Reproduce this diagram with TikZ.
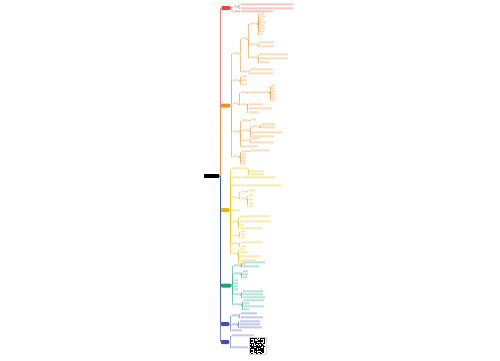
\documentclass[tikz,border=0pt]{standalone}
\usetikzlibrary{calc}
\definecolor{mred}{HTML}{E5483F}
\definecolor{morange}{HTML}{F0902A}
\definecolor{myellow}{HTML}{E2BE00}
\definecolor{mgreen}{HTML}{1AA37A}
\definecolor{mblue}{HTML}{3F4FB0}
% one child of a map node: parent anchor, name, y, length, colour
\newcommand\kid[5]{%
  \path (#1) ++(2.6,0) coordinate (kx);
  \node[leaf, fill=#5!22, minimum width=#4pt] (#2) at (kx |- 0,#3) {};
  \draw[con, draw=#5!85] (#1) -- ++(1.2,0) |- (#2.south west) -- (#2.south east);
}
\begin{document}
\begin{tikzpicture}[x=1pt, y=-1pt,
  rootbox/.style={fill=black, minimum width=15pt, minimum height=4pt, inner sep=0},
  br/.style={rounded corners=0.8pt, minimum height=4pt, inner sep=0},
  leaf/.style={anchor=south west, inner sep=0, minimum height=1.5pt},
  con/.style={line width=0.35pt, rounded corners=0.8pt},
  spine/.style={line width=0.55pt, rounded corners=1pt}]
\fill[white] (0,0) rectangle (500,360);
\useasboundingbox (0,0) rectangle (500,360);
\node[rootbox] (root) at (211.5,176) {};
\node[br, fill=mred, minimum width=9pt] (r) at (226,8) {};
\node[br, fill=morange, minimum width=9pt] (o) at (225.5,105.5) {};
\node[br, fill=myellow, minimum width=8pt] (y) at (225,210) {};
\node[br, fill=mgreen, minimum width=10pt] (g) at (226,285.5) {};
\node[br, fill=mblue, minimum width=8pt] (b1) at (225,324) {};
\node[br, fill=mblue, minimum width=8pt] (b2) at (225,342) {};
\foreach \bx/\bc in {r/mred, o/morange, y/myellow, g/mgreen, b1/mblue, b2/mblue}
  \draw[spine, draw=\bc] (root.east) -- ++(1.2,0) |- (\bx.west);
% red branch
\kid{r.east}{r1}{7}{4}{mred}
\kid{r1.south east}{r1a}{5}{52}{mred}
\kid{r1.south east}{r1b}{9}{52}{mred}
\kid{r.east}{r2}{12}{4}{mred}
\kid{r2.south east}{r2a}{12}{32}{mred}
% orange branch
\kid{o.east}{oA}{54}{6}{morange}
\kid{oA.south east}{oA1}{39}{5}{morange}
\kid{oA1.south east}{oA1a}{24}{7}{morange}
\foreach \yy/\ll [count=\i] in {14/4,17/5,20/3,23/6,26/4,29/5,32/4,35/3}
  {\kid{oA1a.south east}{oA1a-\i}{\yy}{\ll}{morange}}
\kid{oA1.south east}{oA1b}{45}{7}{morange}
\foreach \yy/\ll [count=\i] in {43/14,47/14}
  {\kid{oA1b.south east}{oA1b-\i}{\yy}{\ll}{morange}}
\kid{oA1.south east}{oA1c}{58}{7}{morange}
\foreach \yy/\ll [count=\i] in {55/28,59/28,63/10}
  {\kid{oA1c.south east}{oA1c-\i}{\yy}{\ll}{morange}}
\kid{oA.south east}{oA2}{72}{6}{morange}
\foreach \yy/\ll [count=\i] in {70/22,74/22}
  {\kid{oA2.south east}{oA2-\i}{\yy}{\ll}{morange}}
\kid{o.east}{oB}{81}{6}{morange}
\foreach \yy/\ll [count=\i] in {77/5,81/5,85/5}
  {\kid{oB.south east}{oB-\i}{\yy}{\ll}{morange}}
\kid{o.east}{oC}{104}{5}{morange}
\kid{oC.south east}{oC1}{93}{5}{morange}
\kid{oC1.south east}{oC1a}{93}{20}{morange}
\foreach \yy [count=\i] in {86,89,92,95,98,101}
  {\kid{oC1a.south east}{oC1a-\i}{\yy}{3}{morange}}
\kid{oC.south east}{oC2}{105}{5}{morange}
\foreach \yy/\ll [count=\i] in {105/14,109/23,113/10}
  {\kid{oC2.south east}{oC2-\i}{\yy}{\ll}{morange}}
\kid{o.east}{oD}{132}{6}{morange}
\kid{oD.south east}{oD1}{121}{6}{morange}
\kid{oD1.south east}{oD1a}{120}{5}{morange}
\kid{oD.south east}{oD2}{131}{7}{morange}
\kid{oD2.south east}{oD2a}{127}{7}{morange}
\kid{oD2a.south east}{oD2a-1}{125}{13}{morange}
\kid{oD2a.south east}{oD2a-2}{128}{13}{morange}
\kid{oD2.south east}{oD2b}{133}{7}{morange}
\kid{oD2b.south east}{oD2b-1}{133}{20}{morange}
\kid{oD2.south east}{oD2c}{137}{22}{morange}
\kid{oD.south east}{oD3}{141}{7}{morange}
\kid{oD3.south east}{oD3a}{139}{8}{morange}
\kid{oD3.south east}{oD3b}{143}{22}{morange}
\kid{oD.south east}{oD4}{147}{16}{morange}
\kid{o.east}{oE}{157}{6}{morange}
\kid{oE.south east}{oE1}{152}{6}{morange}
\kid{oE1.south east}{oE1a}{151}{18}{morange}
\foreach \yy [count=\i] in {155,158,161,164}
  {\kid{oE.south east}{oE-\i}{\yy}{4}{morange}}
% yellow branch
\kid{y.east}{yA}{169}{15}{myellow}
\kid{yA.south east}{yA1}{172}{14}{myellow}
\kid{yA.south east}{yA2}{175}{14}{myellow}
\kid{y.east}{yB}{178}{6}{myellow}
\kid{yB.south east}{yB1}{178}{34}{myellow}
\kid{y.east}{yC}{186}{10}{myellow}
\kid{yC.south east}{yC1}{186}{36}{myellow}
\kid{y.east}{yD}{198}{6}{myellow}
\kid{yD.south east}{yD1}{192}{5}{myellow}
\kid{yD1.south east}{yD1a}{191}{6}{myellow}
\kid{yD.south east}{yD2}{199}{5}{myellow}
\foreach \yy [count=\i] in {196,200,204,207}
  {\kid{yD2.south east}{yD2-\i}{\yy}{4}{myellow}}
\kid{y.east}{yE}{211}{8}{myellow}
\kid{y.east}{yF}{222}{5}{myellow}
\kid{yF.south east}{yF1}{217}{5}{myellow}
\kid{yF1.south east}{yF1a}{217}{22}{myellow}
\kid{yF.south east}{yF2}{222}{6}{myellow}
\kid{yF2.south east}{yF2a}{222}{22}{myellow}
\kid{yF.south east}{yF3}{226}{4}{myellow}
\kid{yF.south east}{yF4}{229}{22}{myellow}
\kid{y.east}{yG}{236}{6}{myellow}
\foreach \yy [count=\i] in {232,235,238}
  {\kid{yG.south east}{yG-\i}{\yy}{4}{myellow}}
\kid{y.east}{yH}{244}{6}{myellow}
\kid{yH.south east}{yH1}{243}{22}{myellow}
\kid{yH.south east}{yH2}{247}{5}{myellow}
\kid{y.east}{yI}{254}{5}{myellow}
\foreach \yy/\ll [count=\i] in {250/5,253/8,257/20}
  {\kid{yI.south east}{yI-\i}{\yy}{\ll}{myellow}}
\kid{yI.south east}{yI4}{261}{8}{myellow}
\kid{yI4.south east}{yI4a}{261}{5}{myellow}
\kid{yI.south east}{yI5}{265}{5}{myellow}
% green branch
\kid{g.east}{gA}{266}{6}{mgreen}
\kid{gA.south east}{gA1}{263}{22}{mgreen}
\kid{gA.south east}{gA2}{267}{16}{mgreen}
\kid{g.east}{gB}{274}{6}{mgreen}
\foreach \yy/\ll [count=\i] in {272/5,275/5,278/4}
  {\kid{gB.south east}{gB-\i}{\yy}{\ll}{mgreen}}
\foreach \yy [count=\i] in {281,284,287,290}
  {\kid{g.east}{gC-\i}{\yy}{4}{mgreen}}
\kid{g.east}{gD}{295}{6}{mgreen}
\foreach \yy/\ll [count=\i] in {292/20,295/20,298/22}
  {\kid{gD.south east}{gD-\i}{\yy}{\ll}{mgreen}}
\kid{g.east}{gE}{305}{7}{mgreen}
\foreach \yy/\ll [count=\i] in {301/20,304/5,307/20,310/5}
  {\kid{gE.south east}{gE-\i}{\yy}{\ll}{mgreen}}
% blue branches
\kid{b1.east}{bA}{316}{6}{mblue}
\kid{bA.south east}{bA1}{314}{16}{mblue}
\kid{bA.south east}{bA2}{318}{22}{mblue}
\kid{b1.east}{bB}{325}{5}{mblue}
\foreach \yy/\ll [count=\i] in {322/20,325/20,328/22}
  {\kid{bB.south east}{bB-\i}{\yy}{\ll}{mblue}}
\kid{b1.east}{bC}{331}{10}{mblue}
\kid{b2.east}{bD}{336}{22}{mblue}
\kid{b2.east}{bE}{348}{16}{mblue}
% code picture
\node[draw=gray!35, fill=white, minimum size=17pt, inner sep=0, line width=0.3pt] (qr) at (257.5,346) {};
\pgfmathsetseed{11}
\foreach \i in {0,...,20}{
  \foreach \j in {0,...,20}{
    \pgfmathrandominteger{\q}{0}{1}
    \ifnum\q=1 \fill (qr.north west) ++(1+\i*0.714,1+\j*0.714) rectangle ++(0.714,0.714);\fi
  }}
\foreach \fx/\fy in {0/0,14/0,0/14}{
  \fill[black] (qr.north west) ++(1+\fx*0.714,1+\fy*0.714) rectangle ++(5,5);
  \fill[white] (qr.north west) ++(1.714+\fx*0.714,1.714+\fy*0.714) rectangle ++(3.57,3.57);
  \fill[black] (qr.north west) ++(2.43+\fx*0.714,2.43+\fy*0.714) rectangle ++(2.14,2.14);
}
\end{tikzpicture}
\end{document}
